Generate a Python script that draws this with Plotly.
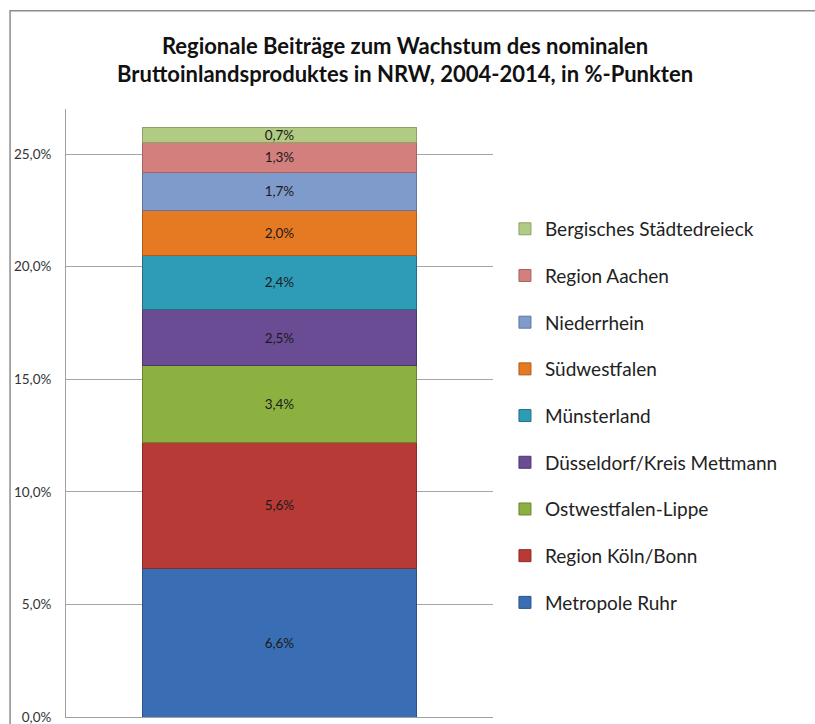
import plotly.graph_objects as go

regions = ["Metropole Ruhr", "Region Köln/Bonn", "Ostwestfalen-Lippe",
           "Düsseldorf/Kreis Mettmann", "Münsterland", "Südwestfalen",
           "Niederrhein", "Region Aachen", "Bergisches Städtedreieck"]
values = [6.6, 5.6, 3.4, 2.5, 2.4, 2.0, 1.7, 1.3, 0.7]
colors = ["#3A6EB4", "#B83A36", "#8DB140", "#6A4C95", "#2E9CB6",
          "#E67A22", "#7F9BCB", "#D27F7E", "#B2CB83"]
edges = ["#2A5288", "#8A2A28", "#6A8530", "#4E376F", "#226F83",
         "#B05C18", "#5F779F", "#A86262", "#8CA366"]
category = ["NRW"]
y_ticks = [0, 5, 10, 15, 20, 25]
y_tick_labels = ["0,0%", "5,0%", "10,0%", "15,0%", "20,0%", "25,0%"]

fig = go.Figure()
n = len(regions)
for i, (name, v) in enumerate(zip(regions, values)):
    fig.add_trace(go.Bar(
        x=category, y=[v], name=name,
        marker=dict(color=colors[i], line=dict(color=edges[i], width=1)),
        texttemplate="%{y:.1f}%", textposition="inside",
        insidetextanchor="middle", constraintext="none",
        textfont=dict(family="Lato", size=13.5, color="#1a1a1a"),
        legendgroup=name, legendrank=n - i,
    ))

fig.update_layout(
    barmode="stack",
    bargap=0.356,
    width=815, height=724,
    margin=dict(l=66, r=322, t=109, b=7, autoexpand=False),
    paper_bgcolor="white", plot_bgcolor="white",
    separators=",.",
    title=dict(
        text="Regionale Beiträge zum Wachstum des nominalen<br>Bruttoinlandsproduktes in NRW, 2004-2014, in %-Punkten",
        x=0.497, xanchor="center", xref="container", y=0.926, yref="container", yanchor="middle",
        font=dict(family="Lato", size=22, color="#111111", weight="bold"),
    ),
    showlegend=True,
    legend=dict(
        traceorder="grouped", x=1.028, y=0.834, xanchor="left", yanchor="top",
        font=dict(family="Lato", size=19, color="#222222"),
        tracegroupgap=19, bgcolor="rgba(0,0,0,0)",
        itemclick=False,
    ),
    font=dict(family="Lato"),
)
fig.update_xaxes(showticklabels=False, showline=True, linecolor="#A0A0A0", linewidth=1,
                 ticks="", showgrid=False, zeroline=False, automargin=False)
fig.update_yaxes(range=[0, 27], tickvals=y_ticks, ticktext=y_tick_labels,
                 showgrid=True, gridcolor="#A6A6A6", gridwidth=1,
                 showline=True, linecolor="#A0A0A0", linewidth=1, ticks="",
                 ticklabelstandoff=11, zeroline=False, ticklabeloverflow="allow",
                 automargin=False,
                 tickfont=dict(family="Lato", size=13.5, color="#333333"))

# chart frame
fig.add_shape(type="rect", xref="paper", yref="paper",
              x0=-0.131, x1=2.0, y0=-0.2, y1=1.1614,
              line=dict(color="#8C8C8C", width=1.5), layer="below")

fig.write_html("out.html", config={"displayModeBar": False},
               post_script="document.body.style.margin='0';")
